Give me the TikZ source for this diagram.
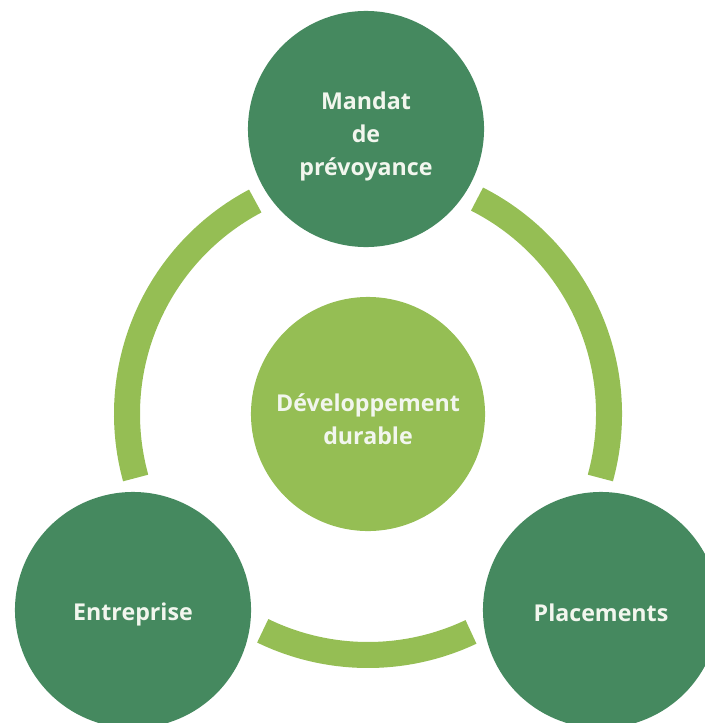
\documentclass[tikz,border=0pt]{standalone}
\usepackage{fontspec}
\setmainfont{Open Sans}
\definecolor{darkleaf}{HTML}{45895F}
\definecolor{lightleaf}{HTML}{95BE54}
\definecolor{paleink}{HTML}{F2F6EE}
\begin{document}
\begin{tikzpicture}[x=0.025cm,y=0.025cm,
    theme/.style={circle,fill=darkleaf,minimum size=5.9cm,inner sep=0pt},
    hub/.style={circle,fill=lightleaf,minimum size=5.85cm,inner sep=0pt},
    caption/.style={text=paleink,align=center,inner sep=0pt,
                    font=\bfseries\fontsize{16.5}{23.5}\selectfont},
    ringpart/.style={draw=lightleaf,line width=0.65cm}]
\useasboundingbox (0,0) rectangle (704,-723);
\coordinate (mid) at (368,-414);
% ring pieces
\draw[ringpart] (mid) ++(117.9:241) arc[start angle=117.9,end angle=195.4,radius=241];
\draw[ringpart] (mid) ++(63.1:241) arc[start angle=63.1,end angle=-15.4,radius=241];
\draw[ringpart] (mid) ++(244.1:241) arc[start angle=244.1,end angle=295.3,radius=241];
% circles
\node[hub,label={[caption,yshift=-4pt]center:Développement\\durable}] (dd) at (mid) {};
\node[theme,label={[caption,yshift=-5pt]center:Mandat\\de\\prévoyance}] (mandat) at (366,-129) {};
\node[theme,label={[caption,yshift=-3pt]center:Entreprise}] (entreprise) at (133,-610) {};
\node[theme,label={[caption,yshift=-2pt]center:Placements}] (placements) at (601,-610) {};
\end{tikzpicture}
\end{document}
